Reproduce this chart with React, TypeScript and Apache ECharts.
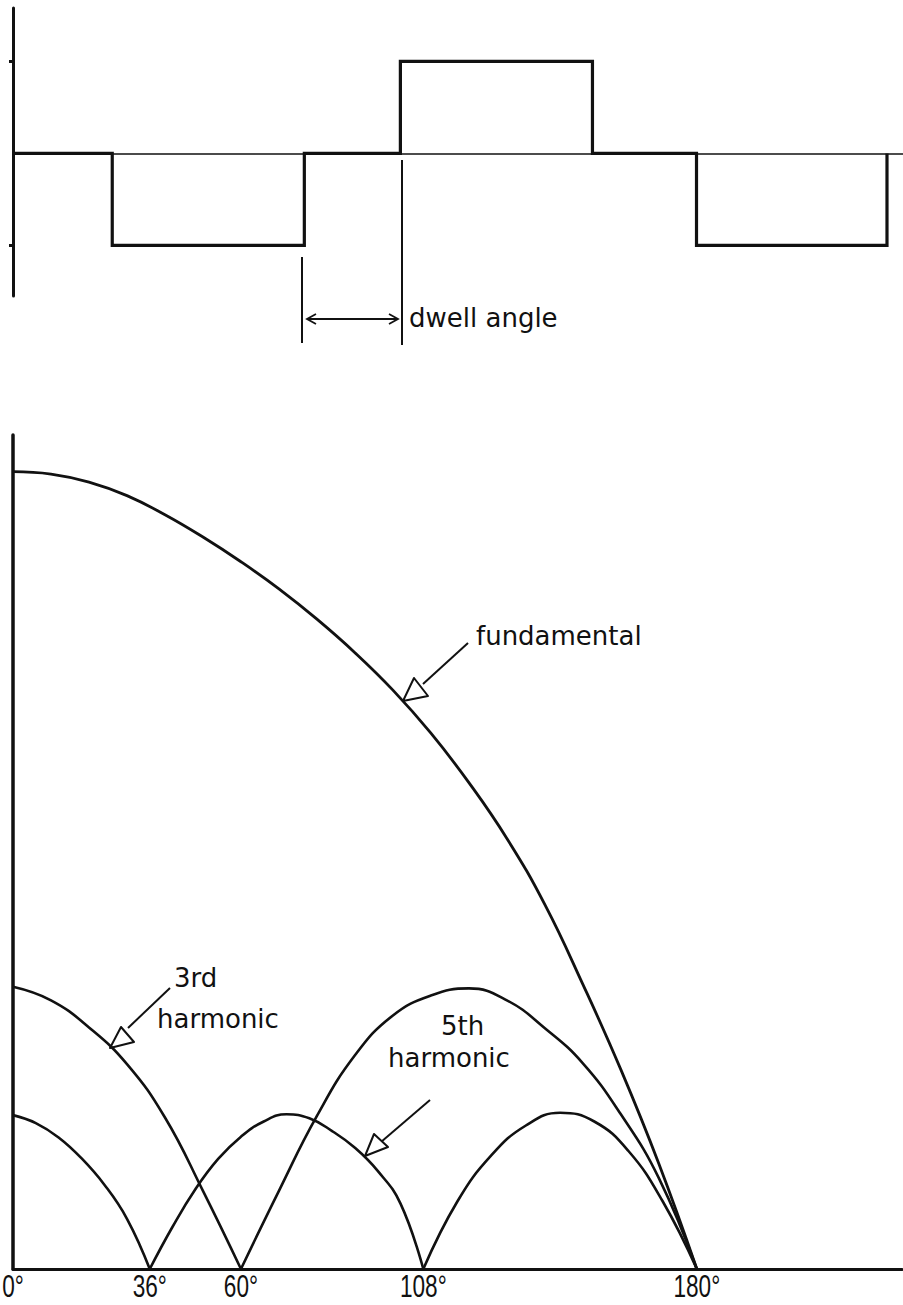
import { useEffect, useRef } from "react";
import * as echarts from "echarts";

// Upper trace: quasi-square output voltage (angle in degrees, normalised level)
const waveAngle = [0, 62, 62, 182, 182, 242, 242, 362, 362, 427, 427, 546, 546];
const waveLevel = [0, 0, -1, -1, 0, 0, 1, 1, 0, 0, -1, -1, 0];

// Lower chart: harmonic amplitude against dwell angle
const angleTicks = [0, 36, 60, 108, 180];

const fundamental: [number, number][] = [
  [0, 1.0], [10, 0.997], [20, 0.987], [30, 0.97], [40, 0.946], [50, 0.918],
  [60, 0.887], [70, 0.853], [80, 0.815], [90, 0.773], [100, 0.726], [110, 0.672],
  [120, 0.61], [130, 0.54], [140, 0.457], [150, 0.357], [160, 0.25], [170, 0.132],
  [180, 0],
];

const thirdA: [number, number][] = [
  [0, 0.354], [10, 0.337], [20, 0.303], [30, 0.257], [40, 0.19], [50, 0.098], [60, 0],
];
const thirdB: [number, number][] = [
  [60, 0], [70, 0.098], [80, 0.192], [90, 0.268], [100, 0.318], [110, 0.343],
  [120, 0.352], [130, 0.337], [140, 0.302], [150, 0.258], [160, 0.194],
  [170, 0.114], [180, 0],
];

const fifthA: [number, number][] = [
  [0, 0.193], [6, 0.183], [12, 0.165], [18, 0.139], [24, 0.106], [30, 0.063], [36, 0],
];
const fifthB: [number, number][] = [
  [36, 0], [42, 0.053], [48, 0.1], [54, 0.138], [60, 0.166], [66, 0.185],
  [72, 0.194], [78, 0.189], [84, 0.173], [90, 0.152], [96, 0.123], [102, 0.082],
  [108, 0],
];
const fifthC: [number, number][] = [
  [108, 0], [117, 0.085], [126, 0.143], [135, 0.18], [144, 0.196], [153, 0.185],
  [162, 0.148], [171, 0.085], [180, 0],
];

const INK = "#111";
const LETTER_FONT = "'DejaVu Sans', 'Noto Sans', sans-serif";
const TICK_FONT = "'Liberation Sans', Arimo, 'DejaVu Sans', sans-serif";

function curve(data: [number, number][], width = 2.6) {
  return {
    type: "line" as const,
    xAxisIndex: 1,
    yAxisIndex: 1,
    data,
    smooth: 0.45,
    symbol: "none",
    lineStyle: { color: INK, width },
    silent: true,
  };
}

function label(text: string, x: number, y: number, size = 26) {
  return {
    type: "text" as const,
    x,
    y,
    style: {
      text,
      fill: INK,
      font: `${size}px ${LETTER_FONT}`,
      textVerticalAlign: "middle",
    },
  };
}

function pointer(shaft: number[], head: number[][]) {
  return [
    {
      type: "line" as const,
      shape: { x1: shaft[0], y1: shaft[1], x2: shaft[2], y2: shaft[3] },
      style: { stroke: INK, lineWidth: 2 },
    },
    {
      type: "polygon" as const,
      shape: { points: head },
      style: { fill: "#fff", stroke: INK, lineWidth: 2, lineJoin: "round" },
    },
  ];
}

export default function App() {
  const ref = useRef<HTMLDivElement>(null);

  useEffect(() => {
    if (!ref.current) return;
    const chart = echarts.init(ref.current, null, { renderer: "svg" });

    chart.setOption({
      animation: false,
      backgroundColor: "#fff",
      grid: [
        { left: 13, top: 8, width: 890, height: 288, containLabel: false, outerBoundsMode: "none" },
        { left: 13, top: 435, width: 889, height: 834, containLabel: false, outerBoundsMode: "none" },
      ],
      xAxis: [
        {
          gridIndex: 0,
          type: "value",
          min: 0,
          max: 556,
          axisLine: { onZero: true, lineStyle: { color: INK, width: 1.6 } },
          axisTick: { show: false },
          axisLabel: { show: false },
          splitLine: { show: false },
        },
        {
          gridIndex: 1,
          type: "value",
          min: 0,
          max: 234,
          axisLine: { lineStyle: { color: INK, width: 3 } },
          axisTick: { show: false },
          axisLabel: { show: false },
          splitLine: { show: false },
        },
      ],
      yAxis: [
        {
          gridIndex: 0,
          type: "value",
          min: -1.55,
          max: 1.58,
          axisLine: { show: true, onZero: false, lineStyle: { color: INK, width: 3 } },
          axisTick: { show: true, customValues: [-1, 1], length: 4, lineStyle: { color: INK, width: 3 } },
          axisLabel: { show: false },
          splitLine: { show: false },
        },
        {
          gridIndex: 1,
          type: "value",
          min: 0,
          max: 1.046,
          axisLine: { show: true, lineStyle: { color: INK, width: 3.5 } },
          axisTick: { show: false },
          axisLabel: { show: false },
          splitLine: { show: false },
        },
      ],
      series: [
        {
          type: "line",
          xAxisIndex: 0,
          yAxisIndex: 0,
          data: waveAngle.map((a, i) => [a, waveLevel[i]]),
          symbol: "none",
          lineStyle: { color: INK, width: 3.2, join: "miter" },
          silent: true,
        },
        curve(fundamental, 2.8),
        curve(thirdA),
        curve(thirdB),
        curve(fifthA),
        curve(fifthB),
        curve(fifthC),
      ],
    });

    // Degree labels under the lower axis, placed at the axis position of each tick value
    const baseY = chart.convertToPixel({ yAxisIndex: 1 }, 0) as number;
    const tickLabels = angleTicks.map((v) => ({
      type: "text" as const,
      x: chart.convertToPixel({ xAxisIndex: 1 }, v) as number,
      y: baseY + 17,
      scaleX: 0.73,
      style: {
        text: `${v}°`,
        fill: INK,
        font: `31px ${TICK_FONT}`,
        textAlign: "center",
        textVerticalAlign: "middle",
      },
    }));

    chart.setOption({
      graphic: [
        // dwell angle markers
        {
          type: "line",
          shape: { x1: 302, y1: 257, x2: 302, y2: 343 },
          style: { stroke: INK, lineWidth: 2 },
        },
        {
          type: "line",
          shape: { x1: 402, y1: 160, x2: 402, y2: 345 },
          style: { stroke: INK, lineWidth: 2 },
        },
        {
          type: "line",
          shape: { x1: 307, y1: 319, x2: 398, y2: 319 },
          style: { stroke: INK, lineWidth: 1.8 },
        },
        {
          type: "polyline",
          shape: { points: [[316, 314], [307, 319], [316, 324]] },
          style: { stroke: INK, lineWidth: 1.8, fill: "none" },
        },
        {
          type: "polyline",
          shape: { points: [[389, 314], [398, 319], [389, 324]] },
          style: { stroke: INK, lineWidth: 1.8, fill: "none" },
        },
        label("dwell angle", 409, 318),
        // curve captions
        label("fundamental", 476, 636, 26),
        ...pointer([468, 643, 423, 684], [[403, 701], [414, 678], [428, 696]]),
        label("3rd", 174, 978),
        label("harmonic", 157, 1019),
        ...pointer([170, 988, 128, 1028], [[110, 1048], [121, 1027], [134, 1042]]),
        label("5th", 441, 1026),
        label("harmonic", 388, 1058),
        ...pointer([430, 1100, 381, 1142], [[365, 1156], [374, 1134], [388, 1147]]),
        ...tickLabels,
      ],
    });

    return () => chart.dispose();
  }, []);

  return (
    <div
      ref={ref}
      style={{ position: "absolute", left: 0, top: 0, width: 903, height: 1305 }}
    />
  );
}
